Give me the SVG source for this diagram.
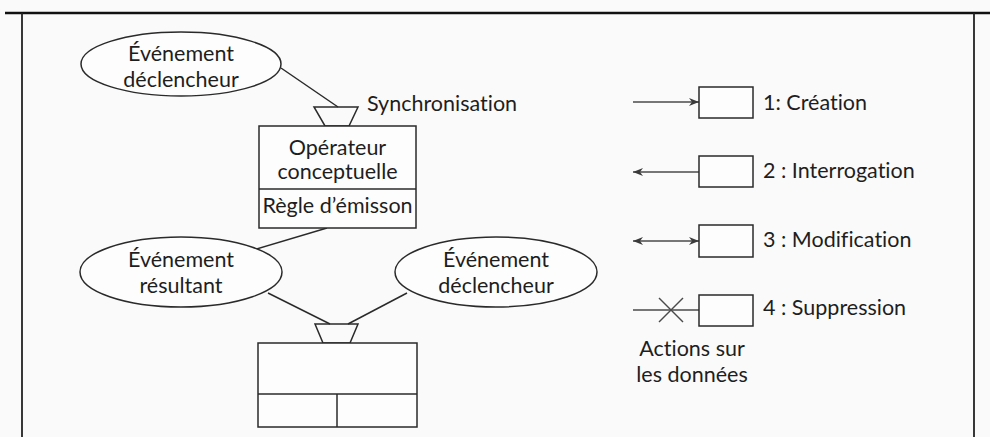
<svg xmlns="http://www.w3.org/2000/svg" width="990" height="437" viewBox="0 0 990 437">
<defs>
<style>
text{font-family:Lato,"Open Sans",sans-serif;font-size:21.5px;fill:#1e1e1e;font-variant-ligatures:none}
.c{text-anchor:middle}
.s{fill:none;stroke:#2a2a2a;stroke-width:1.5}
.f{fill:#fdfdfd;stroke:#2a2a2a;stroke-width:1.5}
.a{fill:none;stroke:#4a4a4a;stroke-width:1.4}
</style>
<marker id="ah" viewBox="0 0 10 8" refX="10" refY="4" markerWidth="10" markerHeight="8" markerUnits="userSpaceOnUse" orient="auto-start-reverse">
<path d="M0,0 L10,4 L0,8 L3,4 Z" fill="#3a3a3a"/>
</marker>
</defs>
<rect width="990" height="437" fill="#fafafa"/>
<g id="frame">
<line x1="5" y1="13" x2="990" y2="13" stroke="#111" stroke-width="2.5"/>
<line x1="22" y1="13" x2="22" y2="437" stroke="#222" stroke-width="1.8"/>
<line x1="974" y1="13" x2="974" y2="437" stroke="#222" stroke-width="1.8"/>
</g>
<g id="connectors">
<line class="s" x1="281" y1="68" x2="338" y2="107"/>
<line class="s" x1="327" y1="228" x2="253" y2="250"/>
<line class="s" x1="268" y1="293" x2="330" y2="324"/>
<line class="s" x1="407" y1="293" x2="348" y2="324"/>
</g>
<g id="evt-declencheur-1">
<ellipse class="f" cx="181" cy="64" rx="100" ry="32"/>
<text class="c" x="181" y="61">Événement</text>
<text class="c" x="181" y="87">déclencheur</text>
</g>
<g id="sync-1">
<path class="s" d="M314,107 L358,107 L349,126 L325,126 Z"/>
<text x="367" y="111">Synchronisation</text>
</g>
<g id="operateur">
<rect class="f" x="259" y="126" width="157" height="102"/>
<line class="s" x1="259" y1="189" x2="416" y2="189"/>
<text class="c" x="337.5" y="155">Opérateur</text>
<text class="c" x="337.5" y="179">conceptuelle</text>
<text class="c" x="337.5" y="213">Règle d’émisson</text>
</g>
<g id="evt-resultant">
<ellipse class="f" cx="181" cy="272" rx="101" ry="35"/>
<text class="c" x="181" y="267">Événement</text>
<text class="c" x="181" y="293">résultant</text>
</g>
<g id="evt-declencheur-2">
<ellipse class="f" cx="496" cy="272" rx="101" ry="35"/>
<text class="c" x="496" y="267">Événement</text>
<text class="c" x="496" y="293">déclencheur</text>
</g>
<g id="sync-2">
<path class="s" d="M315,324 L358,324 L350,343 L323,343 Z"/>
</g>
<g id="operateur-2">
<rect class="f" x="258" y="343" width="159" height="84"/>
<line class="s" x1="258" y1="394" x2="417" y2="394"/>
<line class="s" x1="337" y1="394" x2="337" y2="427"/>
</g>
<g id="legend-creation">
<line class="a" x1="633" y1="102" x2="699" y2="102" marker-end="url(#ah)"/>
<rect class="f" x="699" y="87" width="54" height="31"/>
<text x="763" y="110">1: Création</text>
</g>
<g id="legend-interrogation">
<line class="a" x1="699" y1="172" x2="633" y2="172" marker-end="url(#ah)"/>
<rect class="f" x="699" y="156" width="54" height="31"/>
<text x="763" y="178">2 : Interrogation</text>
</g>
<g id="legend-modification">
<line class="a" x1="633" y1="241" x2="699" y2="241" marker-start="url(#ah)" marker-end="url(#ah)"/>
<rect class="f" x="699" y="225" width="54" height="32"/>
<text x="763" y="247">3 : Modification</text>
</g>
<g id="legend-suppression">
<line class="a" x1="633" y1="310" x2="699" y2="310"/>
<line class="a" x1="659" y1="298" x2="683" y2="322"/>
<line class="a" x1="683" y1="298" x2="659" y2="322"/>
<rect class="f" x="699" y="295" width="54" height="31"/>
<text x="763" y="315">4 : Suppression</text>
</g>
<g id="legend-caption">
<text class="c" x="692" y="356">Actions sur</text>
<text class="c" x="692" y="382">les données</text>
</g>
</svg>
